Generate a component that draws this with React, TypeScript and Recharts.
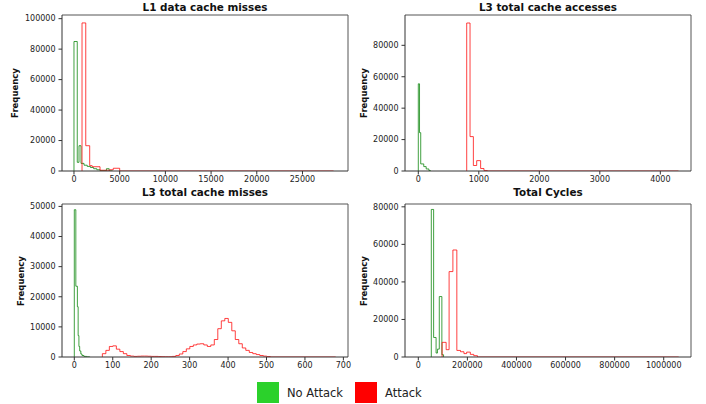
import React from "react";
import { LineChart, Line, XAxis, YAxis, ReferenceLine } from "recharts";

// L1 data cache misses
const l1NoAttackEdges = [0, 360, 550, 770, 1100, 1450, 1800, 2150, 2500, 2850, 3550, 3850, 4200];
const l1NoAttackCounts = [85000, 5700, 16600, 5000, 3800, 3000, 2300, 1500, 800, 200, 1500, 100];
const l1AttackEdges = [880, 1290, 1720, 1990, 2850, 3950, 4300, 5000, 28400];
const l1AttackCounts = [97200, 16600, 3500, 2800, 500, 800, 1800, 0];

// L3 total cache accesses
const l3AccNoAttackEdges = [0, 20, 40, 90, 130, 175, 200];
const l3AccNoAttackCounts = [55500, 24400, 4500, 2800, 1300, 300];
const l3AccAttackEdges = [800, 855, 910, 965, 1030, 1085, 1140, 4300];
const l3AccAttackCounts = [94200, 21900, 3500, 6600, 1600, 300, 0];

// L3 total cache misses
const l3MissNoAttackEdges = [0, 4, 8, 10, 12, 14, 17, 20, 25, 32, 40];
const l3MissNoAttackCounts = [48900, 23500, 16700, 7100, 3500, 2000, 1000, 500, 200, 50];
const l3MissAttackStart = 73;
const l3MissAttackBinWidth = 9.1;
const l3MissAttackCounts = [
  1100, 2200, 3500, 3700, 2600, 1800, 1100, 500, 300, 200, 250, 300, 300, 250, 200, 200,
  150, 100, 80, 80, 200, 500, 1000, 1800, 2700, 3500, 4000, 4300, 4400, 4000, 3500, 4000,
  5800, 9400, 12000, 12800, 11500, 8700, 5800, 4400, 3000, 2200, 1500, 1100, 800, 500, 300, 150,
];
const l3MissAttackEnd = 680;

// Total Cycles
const cyclesNoAttackEdges = [53000, 62500, 72500, 78000, 85500, 96000, 103000];
const cyclesNoAttackCounts = [78600, 10400, 2100, 4200, 32200, 1200];
const cyclesAttackEdges = [97000, 113500, 125500, 141000, 157000, 172000, 186000, 197000, 212000, 226000, 241000, 1061000];
const cyclesAttackCounts = [7800, 3900, 45500, 57000, 3500, 2800, 1800, 2600, 1400, 700, 0];

const legendLabels = ["No Attack", "Attack"];

const FONT = "DejaVu Sans";
const GREEN = "#008000";
const RED = "#ff0000";

function stepPoints(edges: number[], counts: number[]) {
  const pts = [{ x: edges[0], y: 0 }];
  counts.forEach((c, i) => pts.push({ x: edges[i], y: c }));
  const last = edges[edges.length - 1];
  pts.push({ x: last, y: counts[counts.length - 1] });
  pts.push({ x: last, y: 0 });
  return pts;
}

function binEdges(start: number, width: number, n: number, end: number) {
  const e: number[] = [];
  for (let i = 0; i <= n; i++) e.push(start + i * width);
  e.push(end);
  return e;
}

type PanelProps = {
  title: string;
  left: number;
  top: number;
  width: number;
  height: number;
  marginTop: number;
  marginRight: number;
  yAxisWidth: number;
  xDomain: [number, number];
  xTicks: number[];
  yDomain: [number, number];
  yTicks: number[];
  green: { x: number; y: number }[];
  red: { x: number; y: number }[];
  titleTop: number;
  ylabelX: number;
};

const tickStyle = { fontSize: 8, fill: "#222", fontFamily: FONT };

function Panel(p: PanelProps) {
  const plotLeft = p.left + p.yAxisWidth;
  const plotRight = p.left + p.width - p.marginRight;
  const plotTop = p.top + p.marginTop;
  const plotBottom = p.top + p.height - 19;
  return (
    <>
      <div style={{ position: "absolute", left: p.left, top: p.top }}>
        <LineChart
          width={p.width}
          height={p.height}
          margin={{ top: p.marginTop, right: p.marginRight, bottom: 0, left: 0 }}
        >
          <XAxis
            type="number"
            dataKey="x"
            domain={p.xDomain}
            ticks={p.xTicks}
            interval={0}
            allowDataOverflow
            height={19}
            tickSize={3.5}
            tickMargin={2}
            tick={tickStyle}
            stroke="#333"
          />
          <YAxis
            type="number"
            domain={p.yDomain}
            ticks={p.yTicks}
            interval={0}
            allowDataOverflow
            width={p.yAxisWidth}
            tickSize={3.5}
            tickMargin={3}
            tick={tickStyle}
            stroke="#333"
          />
          <ReferenceLine y={p.yDomain[1]} stroke="#555" />
          <ReferenceLine x={p.xDomain[1]} stroke="#555" />
          <Line
            data={p.green}
            dataKey="y"
            type="stepAfter"
            stroke={GREEN}
            strokeOpacity={0.75}
            strokeWidth={1}
            dot={false}
            activeDot={false}
            isAnimationActive={false}
          />
          <Line
            data={p.red}
            dataKey="y"
            type="stepAfter"
            stroke={RED}
            strokeOpacity={0.75}
            strokeWidth={1}
            dot={false}
            activeDot={false}
            isAnimationActive={false}
          />
        </LineChart>
      </div>
      <div
        style={{
          position: "absolute",
          left: plotLeft,
          width: plotRight - plotLeft,
          top: p.titleTop,
          textAlign: "center",
          fontFamily: FONT,
          fontWeight: "bold",
          fontSize: 10.4,
          lineHeight: "12px",
          color: "#111",
          whiteSpace: "nowrap",
        }}
      >
        {p.title}
      </div>
      <div
        style={{
          position: "absolute",
          left: p.ylabelX,
          top: (plotTop + plotBottom) / 2,
          transform: "translate(-50%, -50%) rotate(-90deg)",
          fontFamily: FONT,
          fontWeight: "bold",
          fontSize: 8.5,
          lineHeight: 1,
          color: "#111",
          whiteSpace: "nowrap",
        }}
      >
        Frequency
      </div>
    </>
  );
}

export default function App() {
  return (
    <div style={{ position: "absolute", left: 0, top: 0, width: 706, height: 404, background: "#fff", overflow: "hidden" }}>
      <Panel
        title="L1 data cache misses"
        left={0}
        top={0}
        width={353}
        height={190}
        marginTop={15}
        marginRight={5}
        yAxisWidth={62}
        xDomain={[-1310, 29980]}
        xTicks={[0, 5000, 10000, 15000, 20000, 25000]}
        yDomain={[0, 102400]}
        yTicks={[0, 20000, 40000, 60000, 80000, 100000]}
        green={stepPoints(l1NoAttackEdges, l1NoAttackCounts)}
        red={stepPoints(l1AttackEdges, l1AttackCounts)}
        titleTop={1}
        ylabelX={15}
      />
      <Panel
        title="L3 total cache accesses"
        left={353}
        top={0}
        width={353}
        height={190}
        marginTop={15}
        marginRight={15}
        yAxisWidth={52}
        xDomain={[-220, 4507]}
        xTicks={[0, 1000, 2000, 3000, 4000]}
        yDomain={[0, 99300]}
        yTicks={[0, 20000, 40000, 60000, 80000]}
        green={stepPoints(l3AccNoAttackEdges, l3AccNoAttackCounts)}
        red={stepPoints(l3AccAttackEdges, l3AccAttackCounts)}
        titleTop={1}
        ylabelX={364}
      />
      <Panel
        title="L3 total cache misses"
        left={0}
        top={190}
        width={353}
        height={186}
        marginTop={14}
        marginRight={5}
        yAxisWidth={62}
        xDomain={[-32, 712]}
        xTicks={[0, 100, 200, 300, 400, 500, 600, 700]}
        yDomain={[0, 50800]}
        yTicks={[0, 10000, 20000, 30000, 40000, 50000]}
        green={stepPoints(l3MissNoAttackEdges, l3MissNoAttackCounts)}
        red={stepPoints(
          binEdges(l3MissAttackStart, l3MissAttackBinWidth, l3MissAttackCounts.length, l3MissAttackEnd),
          [...l3MissAttackCounts, 0]
        )}
        titleTop={186}
        ylabelX={21}
      />
      <Panel
        title="Total Cycles"
        left={353}
        top={190}
        width={353}
        height={186}
        marginTop={14}
        marginRight={15}
        yAxisWidth={52}
        xDomain={[-54200, 1111200]}
        xTicks={[0, 200000, 400000, 600000, 800000, 1000000]}
        yDomain={[0, 81500]}
        yTicks={[0, 20000, 40000, 60000, 80000]}
        green={stepPoints(cyclesNoAttackEdges, cyclesNoAttackCounts)}
        red={stepPoints(cyclesAttackEdges, cyclesAttackCounts)}
        titleTop={186}
        ylabelX={364}
      />
      {legendLabels.map((label, i) => (
        <div
          key={label}
          style={{
            position: "absolute",
            left: i === 0 ? 257 : 355,
            top: 382,
            display: "flex",
            alignItems: "center",
            fontFamily: FONT,
            fontSize: 11.5,
            color: "#222",
          }}
        >
          <span
            style={{
              display: "inline-block",
              width: 22,
              height: 21,
              background: i === 0 ? "#2bd12b" : "#ff0000",
              marginRight: 8,
            }}
          />
          {label}
        </div>
      ))}
    </div>
  );
}
